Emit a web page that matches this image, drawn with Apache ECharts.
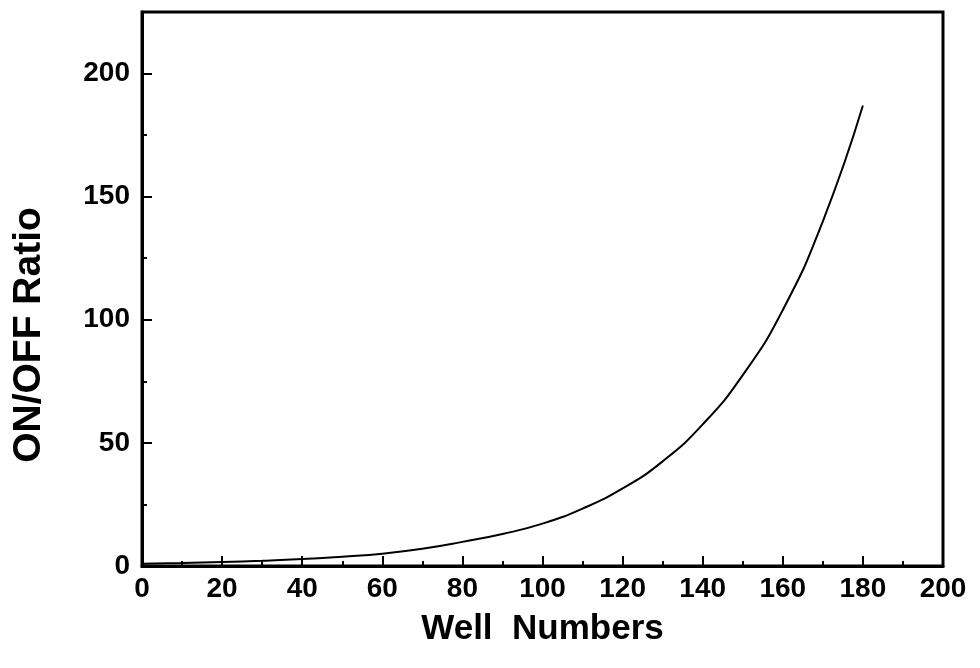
<!DOCTYPE html>
<html>
<head>
<meta charset="utf-8">
<style>html,body{margin:0;padding:0;background:#fff;}#c{width:980px;height:668px;}</style>
<script src="https://cdn.jsdelivr.net/npm/echarts@6/dist/echarts.min.js"></script>
</head>
<body>
<div id="c"></div>
<script>
// Data
const wellNumbers = [0, 10, 20, 30, 40, 50, 60, 70, 80, 90, 100, 110, 120, 130, 140, 150, 160, 170, 180];
const onOffRatio  = [0.9, 1.2, 1.6, 2.1, 2.8, 3.8, 5.0, 7.0, 9.8, 13.0, 17.2, 23.3, 31.5, 42.5, 57.5, 77.5, 104, 140, 187];
const xTitle = 'Well  Numbers';
const yTitle = 'ON/OFF Ratio';

const chart = echarts.init(document.getElementById('c'));
const fam = '"Liberation Sans", Arial, sans-serif';
const lblStyle = {color: '#000', fontFamily: fam, fontWeight: 'bold', fontSize: 28};
chart.setOption({
  animation: false,
  backgroundColor: '#fff',
  grid: {left: 142, right: 37, top: 12, bottom: 102, show: true, borderColor: '#000', borderWidth: 3, backgroundColor: 'transparent'},
  xAxis: {
    type: 'value', min: 0, max: 200, interval: 20,
    name: xTitle, nameLocation: 'middle', nameGap: 46,
    nameTextStyle: {color: '#000', fontFamily: fam, fontWeight: 'bold', fontSize: 35},
    axisLine: {show: true, lineStyle: {color: '#000', width: 3}},
    axisTick: {show: true, inside: true, length: 10, lineStyle: {color: '#000', width: 2}},
    minorTick: {show: true, splitNumber: 2, length: 5, lineStyle: {color: '#000', width: 2}},
    axisLabel: Object.assign({margin: 9}, lblStyle),
    splitLine: {show: false}
  },
  yAxis: {
    type: 'value', min: 0, max: 225, interval: 50,
    name: yTitle, nameLocation: 'middle', nameGap: 93, nameRotate: 90,
    nameTextStyle: {color: '#000', fontFamily: fam, fontWeight: 'bold', fontSize: 39, padding: [0, 92, 0, 0]},
    axisLine: {show: true, lineStyle: {color: '#000', width: 3}},
    axisTick: {show: true, inside: true, length: 10, lineStyle: {color: '#000', width: 2}},
    minorTick: {show: true, splitNumber: 2, length: 5, lineStyle: {color: '#000', width: 2}},
    axisLabel: Object.assign({margin: 12, showMaxLabel: false}, lblStyle),
    splitLine: {show: false}
  },
  series: [{
    type: 'line',
    data: wellNumbers.map((x, i) => [x, onOffRatio[i]]),
    smooth: true,
    showSymbol: false,
    lineStyle: {color: '#000', width: 2}
  }]
});
</script>
</body>
</html>
